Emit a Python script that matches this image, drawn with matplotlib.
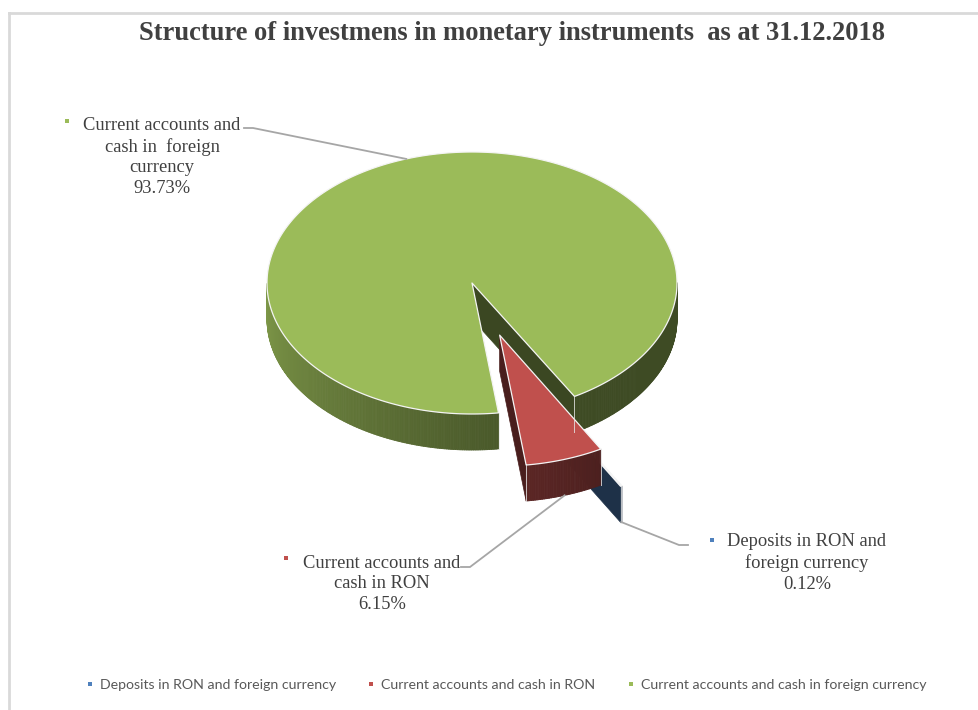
import numpy as np
import matplotlib.pyplot as plt
from matplotlib.patches import Polygon
from matplotlib.collections import PolyCollection
from matplotlib.lines import Line2D
from matplotlib.colors import to_rgb

# monetary instruments at 31.12.2018 (% of total)
categories = ['Deposits in RON and foreign currency',
              'Current accounts and cash in RON',
              'Current accounts and cash in foreign currency']
shares = [0.12, 6.15, 93.73]
slice_labels = ['Deposits in RON and\nforeign currency',
                'Current accounts and\ncash in RON',
                'Current accounts and\ncash in  foreign\ncurrency']
colors = ['#4F81BD', '#C0504D', '#9BBB59']
explode = [0.72, 0.42, 0.0]

# 3d pie geometry, in pixels
FIRST_SLICE = 150          # degrees clockwise from 12 o'clock
CX, CY = 472, 283
RX, RY = 205, 131
DEPTH = 36

TEXT_COLOR = '#404040'
LEADER_COLOR = '#a6a6a6'
SERIF = 'Liberation Serif'


def shade(color, k):
    r, g, b = to_rgb(color)
    return (r * k, g * k, b * k)


def wall_shade(theta):
    """Light comes from the left: bright left side, dark front/right."""
    t = theta % 360
    if t < 270:
        return 0.82 - (t - 180) / 90 * 0.32
    return 0.5 - min(t - 270, 30) / 30 * 0.1


def pt(theta, dx, dy, r=1.0, z=0.0):
    th = np.radians(theta)
    return (CX + dx + RX * r * np.cos(th), CY + dy - RY * r * np.sin(th) + z)


fig = plt.figure(figsize=(9.79, 7.10), dpi=100)
ax = fig.add_axes([0, 0, 1, 1])
ax.set_xlim(0, 979)
ax.set_ylim(710, 0)
ax.axis('off')

# slice spans as math angles (counter-clockwise from 3 o'clock)
total = sum(shares)
spans = []
a = FIRST_SLICE
for v in shares:
    b = a + v / total * 360
    spans.append((90 - b, 90 - a))
    a = b

# exploded slices are pulled out together along the bisector of their gap
pulled = [i for i, e in enumerate(explode) if e > 0]
gap_mid = np.radians((spans[pulled[-1]][0] + spans[pulled[0]][1]) / 2)
offsets = [(e * RX * np.cos(gap_mid), -e * RY * np.sin(gap_mid)) for e in explode]


def draw_slice(i):
    th1, th2 = spans[i]
    dx, dy = offsets[i]
    col = colors[i]
    cx, cy = CX + dx, CY + dy

    # radial cut faces that turn towards the viewer
    for edge, normal in ((th1, th1 - 90), (th2, th2 + 90)):
        if np.sin(np.radians(normal)) < 0:
            ox, oy = pt(edge, dx, dy)
            face = [(cx, cy), (ox, oy), (ox, oy + DEPTH), (cx, cy + DEPTH)]
            ax.add_patch(Polygon(face, closed=True, facecolor=shade(col, 0.38),
                                 edgecolor=shade(col, 0.38), lw=0.5))

    # outer wall, front half only
    ths = np.linspace(th1, th2, max(int((th2 - th1) * 2), 2))
    quads, qcols = [], []
    for t0, t1 in zip(ths[:-1], ths[1:]):
        tm = (t0 + t1) / 2
        if np.sin(np.radians(tm)) >= 0:
            continue
        p0, p1 = pt(t0, dx, dy), pt(t1, dx, dy)
        quads.append([p0, p1, (p1[0], p1[1] + DEPTH), (p0[0], p0[1] + DEPTH)])
        qcols.append(shade(col, wall_shade(tm)))
    if quads:
        ax.add_collection(PolyCollection(quads, facecolors=qcols,
                                         edgecolors=qcols, linewidths=0.6))

    # top face
    arc = [pt(t, dx, dy) for t in np.linspace(th1, th2, 400)]
    top = [(cx, cy)] + arc if th2 - th1 < 359.9 else arc
    ax.add_patch(Polygon(top, closed=True, facecolor=col,
                         edgecolor='#f4f4f4', lw=0.9, joinstyle='round'))

    # light vertical edges where the wall is cut
    for edge in (th1, th2):
        if np.sin(np.radians(edge)) < 0:
            ox, oy = pt(edge, dx, dy)
            ax.plot([ox, ox], [oy, oy + DEPTH], color='#e8e8e8', lw=0.7, alpha=0.8)


# back to front
for i in (2, 0, 1):
    draw_slice(i)

# data labels with leader lines
label_pos = [(807, 563), (382, 584), (162, 157)]
line_starts = [(688, 545), (461, 567), (244, 128)]
bullets = [(712, 540), (286, 558), (67, 121)]
for i in range(3):
    th1, th2 = spans[i]
    mid = (th1 + th2) / 2
    dx, dy = offsets[i]
    if i == 2:
        ax_, ay_ = pt(mid, dx, dy)
    else:
        ax_, ay_ = pt(mid, dx, dy, z=DEPTH)
    sx, sy = line_starts[i]
    kx = sx + 9 if sx < ax_ else sx - 9
    ax.plot([sx, kx, ax_], [sy, sy, ay_], color=LEADER_COLOR, lw=1.3,
            solid_joinstyle='miter')
    ax.text(label_pos[i][0], label_pos[i][1],
            f'{slice_labels[i]}\n{shares[i]:.2f}%',
            ha='center', va='center', multialignment='center',
            fontsize=13.3, family=SERIF, color=TEXT_COLOR, linespacing=1.27)
    ax.plot(*bullets[i], marker='s', ms=2.6, color=colors[i], mew=0)

# title
ax.text(512, 33, 'Structure of investmens in monetary instruments  as at 31.12.2018',
        ha='center', va='center', fontsize=19.1, fontweight='bold',
        family=SERIF, color=TEXT_COLOR)

# legend
handles = [Line2D([], [], marker='s', ls='none', ms=3, mew=0, color=c) for c in colors]
fig.legend(handles, categories, loc='center', bbox_to_anchor=(506 / 979, 1 - 685 / 710),
           ncol=3, frameon=False, handlelength=0.6, handletextpad=0.4,
           columnspacing=2.2, prop={'family': 'Lato', 'size': 10.2},
           labelcolor='#595959')

# chart area border
ax.add_line(Line2D([9, 9], [13, 710], color='#d9d9d9', lw=2))
ax.add_line(Line2D([9, 979], [13, 13], color='#d9d9d9', lw=2))

fig.savefig('out.png', dpi=100, facecolor='white')
